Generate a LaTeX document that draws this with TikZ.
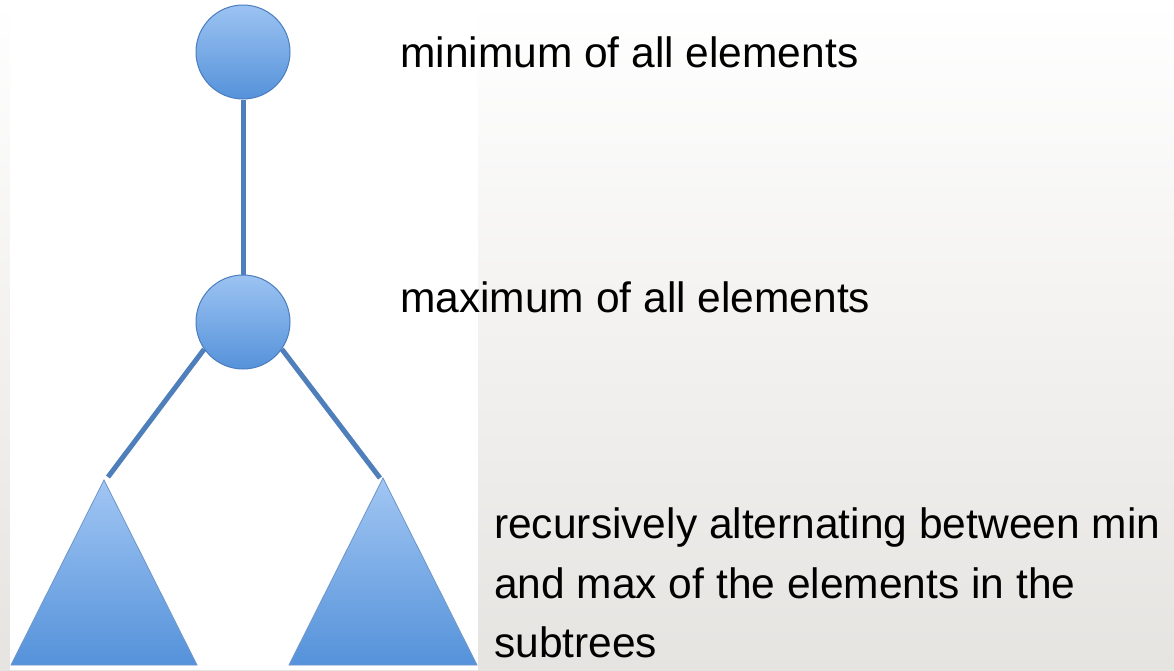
\documentclass[tikz,border=0pt]{standalone}
\usepackage{fontspec}
\setmainfont{Liberation Sans}
\begin{document}
\begin{tikzpicture}[x=1pt,y=-1pt,
  edge/.style={draw=edgeblue,line width=5pt},
  heapnode/.style={circle,minimum size=94pt,inner sep=0pt,draw=borderblue,line width=1pt,top color=topblue,bottom color=botblue},
  subtree/.style={draw=borderblue!80,line width=0.8pt,top color=topblue!95,bottom color=botblue},
  label/.style={anchor=base west,font=\fontsize{42.5}{58}\selectfont,text=black,inner sep=0pt}]
\definecolor{edgeblue}{HTML}{4F7FBA}
\definecolor{borderblue}{HTML}{4A7CBE}
\definecolor{topblue}{HTML}{9CC3F2}
\definecolor{botblue}{HTML}{5592DA}
\definecolor{bgbot}{HTML}{E6E4E1}
\useasboundingbox (0,0) rectangle (1174,670);
\shade[top color=white,bottom color=bgbot] (0,0) rectangle (1174,670);
\fill[white] (10,0) rectangle (478,670);
\node[heapnode] (root) at (243,52) {};
\node[heapnode] (max) at (243,322) {};
\coordinate (lt) at (104,480);
\coordinate (rt) at (383,478);
\coordinate (le) at (108,477);
\coordinate (re) at (380,478);
\draw[edge] (root) -- (max);
\draw[edge] (max.215) -- (le);
\draw[edge] (max.325) -- (re);
\path[subtree] (lt) -- (11,665) -- (197,665) -- cycle;
\path[subtree] (rt) -- (289,665) -- (477,665) -- cycle;
\node[label] (t1) at (400,67) {minimum of all elements};
\node[label] (t2) at (400,312) {maximum of all elements};
\node[label] (t3) at (494,538) {recursively alternating between min};
\node[label] (t4) at (494,598) {and max of the elements in the};
\node[label] (t5) at (494,657) {subtrees};
\end{tikzpicture}
\end{document}
